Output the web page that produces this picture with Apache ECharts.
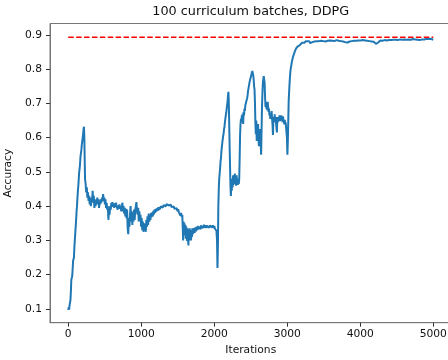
<!DOCTYPE html>
<html>
<head>
<meta charset="utf-8">
<script src="https://cdn.jsdelivr.net/npm/echarts@6/dist/echarts.min.js"></script>
<style>html,body{margin:0;padding:0;background:#fff}#chart{width:448px;height:360px}</style>
</head>
<body>
<div id="chart"></div>
<script>
const titleText = '100 curriculum batches, DDPG';
const xName = 'Iterations';
const yName = 'Accuracy';
const xTicks = [0, 1000, 2000, 3000, 4000, 5000];
const yTicks = [0.1, 0.2, 0.3, 0.4, 0.5, 0.6, 0.7, 0.8, 0.9];
const targetAccuracy = 0.893;
const targetRange = [0, 5000];

// [iteration, accuracy]
const curve = [
[0,0.097],[6,0.104],[12,0.098],[18,0.110],[24,0.118],[30,0.125],[36,0.150],[42,0.185],[48,0.180],[54,0.195],
[60,0.215],[66,0.240],[72,0.245],[78,0.250],[84,0.280],[90,0.300],[96,0.320],[102,0.340],[108,0.360],[114,0.385],
[120,0.400],[126,0.425],[132,0.445],[138,0.460],[144,0.480],[150,0.500],[156,0.510],[162,0.525],[168,0.545],[174,0.555],
[180,0.565],[186,0.580],[192,0.590],[198,0.600],[204,0.610],[210,0.625],[215,0.632],[220,0.605],[225,0.540],
[230,0.480],[238,0.465],[246,0.440],[254,0.455],[262,0.425],[270,0.440],[278,0.415],[286,0.430],[294,0.405],[302,0.425],
[310,0.400],[318,0.420],[326,0.410],[334,0.445],[342,0.415],[350,0.430],[358,0.395],[366,0.415],[374,0.400],[382,0.420],
[390,0.405],[398,0.425],[406,0.410],[414,0.420],[422,0.395],[430,0.415],[438,0.405],[446,0.420],[454,0.410],[462,0.425],
[470,0.415],[478,0.435],[486,0.415],[494,0.425],[502,0.405],[510,0.420],[518,0.395],[526,0.410],[534,0.390],[542,0.400],
[550,0.360],[558,0.385],[566,0.375],[574,0.400],[582,0.390],[590,0.410],[598,0.400],[606,0.412],[614,0.398],[622,0.405],
[630,0.395],[638,0.408],[646,0.398],[654,0.410],[662,0.400],[670,0.405],[678,0.390],[686,0.402],[694,0.395],[702,0.405],
[710,0.392],[718,0.400],[726,0.385],[734,0.398],[742,0.410],[750,0.385],[758,0.400],[766,0.378],[774,0.395],[782,0.370],
[790,0.392],[798,0.365],[806,0.390],[814,0.335],[822,0.318],[830,0.365],[838,0.340],[846,0.375],[854,0.400],[862,0.355],
[870,0.385],[878,0.345],[886,0.380],[894,0.355],[902,0.390],[910,0.360],[918,0.390],[926,0.400],[934,0.412],[942,0.385],
[950,0.375],[958,0.395],[966,0.355],[974,0.385],[982,0.360],[990,0.375],[998,0.340],
[1006,0.365],[1014,0.330],[1022,0.355],[1030,0.325],[1038,0.350],[1046,0.330],[1054,0.345],[1062,0.325],[1070,0.360],[1078,0.340],
[1086,0.370],[1094,0.345],[1102,0.378],[1110,0.355],[1118,0.372],[1126,0.360],[1134,0.380],[1142,0.368],[1150,0.382],[1158,0.370],
[1166,0.386],[1174,0.376],[1182,0.390],[1190,0.380],[1198,0.392],[1206,0.384],[1214,0.393],[1222,0.386],[1230,0.396],[1238,0.388],
[1246,0.397],[1256,0.391],[1266,0.399],[1276,0.394],[1286,0.401],[1296,0.396],[1306,0.403],[1316,0.398],[1326,0.404],[1336,0.399],
[1346,0.406],[1356,0.401],[1366,0.407],[1376,0.402],[1386,0.406],[1396,0.400],[1406,0.404],[1416,0.397],[1426,0.401],[1436,0.394],
[1446,0.399],[1456,0.392],[1466,0.397],[1476,0.389],[1486,0.394],[1496,0.385],[1506,0.391],[1516,0.382],[1526,0.387],[1536,0.372],
[1546,0.380],[1556,0.368],[1562,0.375],[1568,0.340],[1574,0.300],[1580,0.355],[1586,0.330],[1592,0.350],[1598,0.315],[1604,0.345],
[1610,0.305],[1616,0.340],[1622,0.320],[1628,0.298],[1634,0.335],[1640,0.310],[1646,0.285],[1652,0.330],[1658,0.300],[1664,0.335],
[1670,0.305],[1676,0.330],[1682,0.300],[1688,0.325],[1694,0.310],[1700,0.335],[1710,0.318],[1720,0.336],[1730,0.322],[1740,0.338],
[1750,0.326],[1760,0.340],[1770,0.330],[1780,0.342],[1790,0.333],[1800,0.340],[1810,0.332],[1820,0.344],[1830,0.335],[1840,0.342],
[1850,0.336],[1860,0.346],[1870,0.337],[1880,0.344],[1890,0.336],[1900,0.343],[1910,0.338],[1920,0.345],[1930,0.337],[1940,0.343],
[1950,0.339],[1960,0.347],[1970,0.338],[1980,0.344],[1990,0.336],[2000,0.342],[2010,0.334],[2020,0.338],[2030,0.328],[2038,0.300],
[2044,0.219],[2050,0.280],[2056,0.400],[2062,0.450],[2068,0.480],[2074,0.495],[2080,0.510],[2086,0.530],[2092,0.540],[2098,0.560],
[2104,0.565],[2110,0.585],[2116,0.590],[2122,0.605],[2128,0.612],[2134,0.625],[2140,0.632],[2146,0.645],[2152,0.650],[2158,0.665],
[2164,0.672],[2170,0.685],[2176,0.695],[2182,0.705],[2188,0.722],[2194,0.734],[2198,0.715],[2204,0.650],[2210,0.580],[2216,0.520],
[2222,0.460],[2228,0.430],[2234,0.470],[2240,0.445],[2246,0.480],[2252,0.455],[2258,0.490],[2264,0.462],[2270,0.485],[2276,0.470],
[2282,0.495],[2288,0.465],[2294,0.480],[2300,0.460],[2306,0.490],[2312,0.470],[2318,0.480],[2324,0.462],[2330,0.475],[2336,0.465],
[2342,0.480],[2348,0.540],[2354,0.610],[2360,0.640],[2366,0.655],[2372,0.645],[2378,0.665],[2384,0.650],[2390,0.670],[2396,0.640],
[2402,0.675],[2408,0.665],[2414,0.685],[2420,0.678],[2426,0.695],[2432,0.690],[2438,0.705],[2444,0.700],[2450,0.715],[2456,0.722],
[2462,0.735],[2468,0.740],[2474,0.750],[2480,0.755],[2486,0.765],[2492,0.760],[2498,0.775],[2504,0.778],[2510,0.785],[2516,0.780],
[2522,0.795],[2528,0.790],[2534,0.782],[2540,0.770],[2546,0.750],[2552,0.740],[2558,0.700],[2564,0.640],[2570,0.610],[2576,0.650],
[2582,0.590],[2588,0.630],[2594,0.610],[2600,0.640],[2606,0.600],[2612,0.575],[2618,0.620],[2624,0.600],[2630,0.625],[2636,0.590],
[2642,0.550],[2648,0.620],[2654,0.690],[2660,0.730],[2666,0.760],[2672,0.770],[2678,0.780],[2684,0.785],[2690,0.760],[2696,0.720],
[2702,0.690],[2708,0.705],[2714,0.685],[2720,0.700],[2726,0.680],[2732,0.705],[2738,0.690],[2744,0.675],[2750,0.685],[2756,0.665],
[2762,0.672],[2768,0.655],[2774,0.670],[2780,0.660],[2786,0.678],[2792,0.655],[2798,0.640],[2804,0.608],[2810,0.650],[2816,0.660],
[2822,0.650],[2828,0.668],[2834,0.645],[2840,0.660],[2846,0.665],[2852,0.630],[2858,0.615],[2864,0.660],[2870,0.645],[2876,0.640],
[2882,0.660],[2888,0.650],[2894,0.665],[2900,0.648],[2906,0.660],[2912,0.650],[2918,0.665],[2924,0.652],[2930,0.660],[2936,0.645],
[2942,0.662],[2948,0.650],[2954,0.655],[2960,0.640],[2966,0.652],[2972,0.638],[2978,0.645],[2984,0.630],[2990,0.628],[2996,0.600],
[3002,0.550],[3008,0.590],[3014,0.650],[3020,0.710],[3026,0.735],[3032,0.760],[3038,0.780],[3044,0.795],[3050,0.805],[3056,0.812],
[3062,0.820],[3068,0.826],[3074,0.832],[3080,0.837],[3088,0.842],[3096,0.847],[3104,0.852],[3112,0.855],[3120,0.860],[3130,0.862],
[3140,0.866],[3150,0.867],[3160,0.871],[3170,0.870],[3180,0.874],[3190,0.873],[3200,0.877],[3210,0.875],[3220,0.879],[3230,0.877],
[3240,0.881],[3250,0.878],[3260,0.882],[3270,0.879],[3285,0.877],[3300,0.882],[3315,0.876],[3330,0.874],[3345,0.879],[3360,0.876],
[3375,0.881],[3390,0.877],[3405,0.882],[3420,0.878],[3435,0.882],[3450,0.877],[3465,0.883],[3480,0.878],[3495,0.882],[3510,0.877],
[3525,0.881],[3540,0.878],[3555,0.883],[3570,0.879],[3585,0.884],[3600,0.879],[3615,0.883],[3630,0.878],[3645,0.882],[3660,0.879],
[3675,0.885],[3690,0.880],[3705,0.883],[3720,0.879],[3735,0.882],[3750,0.877],[3765,0.881],[3780,0.877],[3795,0.879],[3810,0.874],
[3825,0.878],[3840,0.876],[3855,0.881],[3870,0.877],[3885,0.882],[3900,0.878],[3915,0.883],[3930,0.879],[3945,0.883],[3960,0.880],
[3975,0.884],[3990,0.880],[4005,0.884],[4020,0.880],[4035,0.885],[4050,0.880],[4065,0.884],[4080,0.879],[4095,0.883],[4110,0.879],
[4125,0.882],[4140,0.877],[4155,0.881],[4170,0.877],[4185,0.880],[4200,0.875],[4215,0.874],[4230,0.872],[4245,0.878],[4260,0.880],
[4275,0.884],[4290,0.879],[4305,0.883],[4320,0.880],[4335,0.885],[4350,0.880],[4365,0.884],[4380,0.881],[4395,0.885],[4410,0.880],
[4425,0.885],[4440,0.881],[4455,0.886],[4470,0.882],[4485,0.886],[4500,0.881],[4515,0.885],[4530,0.882],[4545,0.887],[4560,0.882],
[4575,0.886],[4590,0.882],[4605,0.887],[4620,0.883],[4635,0.886],[4650,0.882],[4665,0.887],[4680,0.882],[4695,0.886],[4710,0.883],
[4725,0.888],[4740,0.883],[4755,0.887],[4770,0.882],[4785,0.886],[4800,0.881],[4815,0.885],[4830,0.882],[4845,0.887],[4860,0.883],
[4875,0.887],[4890,0.883],[4905,0.888],[4920,0.884],[4935,0.888],[4950,0.884],[4965,0.889],[4980,0.885],[4990,0.888],[5000,0.886]
];

const chart = echarts.init(document.getElementById('chart'), null, {renderer: 'canvas'});
const font = 'DejaVu Sans';
const axisColor = '#777';
const tickColor = '#333';
chart.setOption({
  animation: false,
  backgroundColor: '#fff',
  title: {
    text: titleText, left: 250.75, top: 5, padding: 0, textAlign: 'center',
    textStyle: {fontFamily: font, fontSize: 12.8, fontWeight: 'normal', color: '#111'}
  },
  grid: {left: 50, top: 23.5, width: 401.5, height: 299.2, containLabel: false, outerBoundsMode: 'none',
    show: true, borderColor: axisColor, borderWidth: 1, backgroundColor: 'transparent'},
  xAxis: {
    type: 'value', min: -250, max: 5250,
    name: xName, nameLocation: 'middle', nameGap: 22.5,
    nameTextStyle: {fontFamily: font, fontSize: 10.7, color: '#111'},
    axisLine: {show: true, onZero: false, lineStyle: {color: axisColor, width: 1}},
    axisTick: {show: true, length: 4, customValues: xTicks, lineStyle: {color: tickColor, width: 1}},
    axisLabel: {customValues: xTicks, margin: 6, fontFamily: font, fontSize: 10.7, color: '#111',
      formatter: v => String(v)},
    splitLine: {show: false}
  },
  yAxis: {
    type: 'value', min: 0.0595, max: 0.9335,
    name: yName, nameLocation: 'middle', nameGap: 31, nameRotate: 90,
    nameTextStyle: {fontFamily: font, fontSize: 10.7, color: '#111'},
    axisLine: {show: true, onZero: false, lineStyle: {color: axisColor, width: 1}},
    axisTick: {show: true, length: 4, customValues: yTicks, lineStyle: {color: tickColor, width: 1}},
    axisLabel: {customValues: yTicks, margin: 8, fontFamily: font, fontSize: 10.7, color: '#111',
      formatter: v => v.toFixed(1)},
    splitLine: {show: false}
  },
  series: [
    {
      type: 'line', data: curve, showSymbol: false, symbol: 'none',
      lineStyle: {color: '#1f77b4', width: 2}, z: 2
    },
    {
      type: 'line', data: targetRange.map(x => [x, targetAccuracy]), showSymbol: false, symbol: 'none',
      lineStyle: {color: '#ff0000', width: 1.5, type: [5.5, 2.4]}, z: 3
    }
  ]
});
</script>
</body>
</html>
